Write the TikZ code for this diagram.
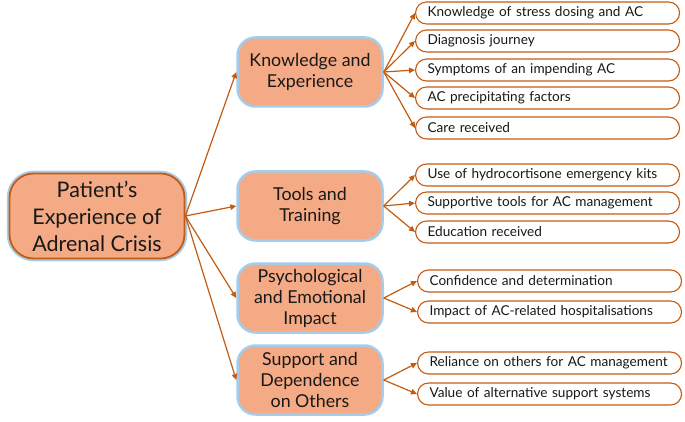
\documentclass[tikz,border=0pt]{standalone}
\usepackage{fontspec}
\setmainfont{Lato}
\usepackage{tikz}
\usetikzlibrary{arrows.meta}
\usepackage{xcolor}
\definecolor{rust}{RGB}{197,90,17}
\definecolor{salmon}{RGB}{244,170,132}
\definecolor{glow}{RGB}{165,205,235}
\definecolor{ink}{RGB}{25,25,25}

\tikzset{
    rootbox/.style={draw=rust, line width=1.8pt, fill=salmon, rounded corners=24pt,
        minimum width=175pt, minimum height=85pt, align=center, text=ink,
        font=\fontsize{21.5}{27}\selectfont,
        preaction={draw=glow, line width=5.5pt}},
    themebox/.style={draw=glow, line width=2.5pt, fill=salmon, rounded corners=18pt,
        minimum width=145pt, minimum height=69pt, align=center, text=ink,
        font=\fontsize{17.8}{21}\selectfont},
    leafbox/.style={draw=rust, line width=1.1pt, fill=white, rounded corners=11pt,
        text width=240pt, inner xsep=12pt, minimum height=22pt, inner ysep=0pt,
        align=left, anchor=west, text=ink, font=\fontsize{13.6}{15}\selectfont},
    link/.style={draw=rust, line width=1.2pt, -{Triangle[length=6pt,width=5.5pt]}}
}

\begin{document}
\begin{tikzpicture}[x=1pt, y=-1pt]
        \useasboundingbox (0,0) rectangle (685,422);

        % Draw the root
        \node[rootbox] (root) at (97,216) {Patient's\\Experience of\\Adrenal Crisis};

        % Draw the themes
        \node[themebox] (know)  at (310,72)  {Knowledge and\\Experience};
        \node[themebox] (tools) at (310,206) {Tools and\\Training};
        \node[themebox] (psych) at (310,298) {Psychological\\and Emotional\\Impact};
        \node[themebox] (supp)  at (310,380) {Support and\\Dependence\\on Others};

        % Draw the subthemes of knowledge
        \node[leafbox] (know1) at (415,13)  {Knowledge of stress dosing and AC};
        \node[leafbox] (know2) at (415,41)  {Diagnosis journey};
        \node[leafbox] (know3) at (415,70)  {Symptoms of an impending AC};
        \node[leafbox] (know4) at (415,98)  {AC precipitating factors};
        \node[leafbox] (know5) at (415,128) {Care received};

        % Draw the subthemes of tools
        \node[leafbox] (tools1) at (415,175) {Use of hydrocortisone emergency kits};
        \node[leafbox] (tools2) at (415,203) {Supportive tools for AC management};
        \node[leafbox] (tools3) at (415,232) {Education received};

        % Draw the subthemes of impact
        \node[leafbox] (psych1) at (417,281) {Confidence and determination};
        \node[leafbox] (psych2) at (417,312) {Impact of AC-related hospitalisations};

        % Draw the subthemes of support
        \node[leafbox] (supp1) at (417,363) {Reliance on others for AC management};
        \node[leafbox] (supp2) at (417,394) {Value of alternative support systems};

        % Connect the root to the themes
        \draw[link] (root.east) -- (know.west);
        \draw[link] (root.east) -- (tools.west);
        \draw[link] (root.east) -- (psych.west);
        \draw[link] (root.east) -- (supp.west);

        % Connect the themes to the subthemes
        \draw[link] (know.east) -- (know1.west);
        \draw[link] (know.east) -- (know2.west);
        \draw[link] (know.east) -- (know3.west);
        \draw[link] (know.east) -- (know4.west);
        \draw[link] (know.east) -- (know5.west);
        \draw[link] (tools.east) -- (tools1.west);
        \draw[link] (tools.east) -- (tools2.west);
        \draw[link] (tools.east) -- (tools3.west);
        \draw[link] (psych.east) -- (psych1.west);
        \draw[link] (psych.east) -- (psych2.west);
        \draw[link] (supp.east) -- (supp1.west);
        \draw[link] (supp.east) -- (supp2.west);
    \end{tikzpicture}
\end{document}
